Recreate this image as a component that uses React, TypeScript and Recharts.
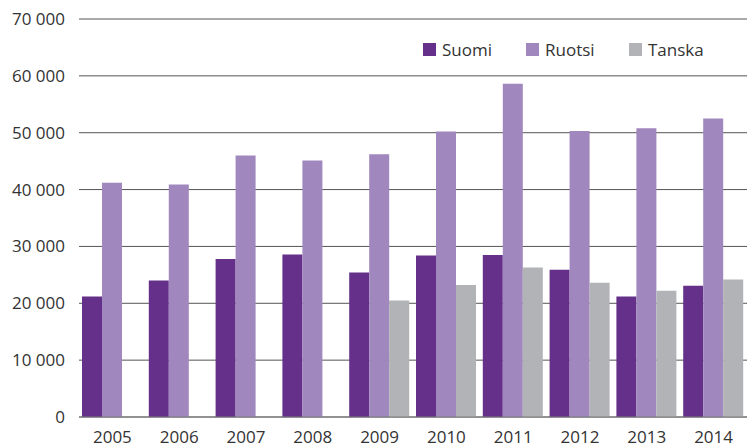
import { Bar, BarChart, CartesianGrid, XAxis, YAxis } from "recharts";

const years = ["2005", "2006", "2007", "2008", "2009", "2010", "2011", "2012", "2013", "2014"];
const suomi = [21200, 24000, 27800, 28600, 25400, 28400, 28500, 25900, 21200, 23100];
const ruotsi = [41200, 40900, 46000, 45100, 46200, 50200, 58600, 50300, 50800, 52500];
const tanska = [null, null, null, null, 20500, 23200, 26300, 23600, 22200, 24200];
const yTicks = [0, 10000, 20000, 30000, 40000, 50000, 60000, 70000];

const series = [
  { key: "Suomi", color: "#643089", values: suomi },
  { key: "Ruotsi", color: "#a087bd", values: ruotsi },
  { key: "Tanska", color: "#b1b3b6", values: tanska },
];

const rows = years.map((y, i) =>
  Object.fromEntries([["year", y], ...series.map((s) => [s.key, s.values[i]])]),
);

const font = "'Open Sans', 'Noto Sans', sans-serif";
const thousands = (v: number) => String(v).replace(/\B(?=(\d{3})+(?!\d))/g, " ");

// legend sits inside the plot, top right, squares + labels spaced evenly
function LegendRow() {
  return (
    <div
      style={{
        position: "absolute",
        left: 423,
        top: 38,
        display: "flex",
        fontFamily: font,
        fontSize: 17,
        color: "#333",
      }}
    >
      {series.map((s) => (
        <div key={s.key} style={{ display: "flex", alignItems: "center", width: 103 }}>
          <span style={{ width: 13, height: 13, background: s.color, marginRight: 6 }} />
          <span>{s.key}</span>
        </div>
      ))}
    </div>
  );
}

export default function App() {
  return (
    <div style={{ position: "absolute", left: 0, top: 0, width: 747, height: 448 }}>
      <BarChart
        width={747}
        height={448}
        data={rows}
        margin={{ top: 19, right: 0, bottom: 0, left: 0 }}
        barCategoryGap={3}
        barGap={0}
      >
        <CartesianGrid horizontal vertical={false} stroke="#555" strokeWidth={1} />
        <XAxis
          dataKey="year"
          height={31}
          axisLine={{ stroke: "#7a7a7a" }}
          tickLine={false}
          tickMargin={8}
          tick={{ fill: "#333", fontSize: 17, fontFamily: font }}
        />
        <YAxis
          width={79}
          domain={[0, 70000]}
          ticks={yTicks}
          interval={0}
          axisLine={false}
          tickLine={false}
          tickMargin={8}
          tickFormatter={thousands}
          tick={{ fill: "#333", fontSize: 17, fontFamily: font }}
        />
        {series.map((s) => (
          <Bar key={s.key} dataKey={s.key} fill={s.color} isAnimationActive={false} />
        ))}
      </BarChart>
      <LegendRow />
    </div>
  );
}
